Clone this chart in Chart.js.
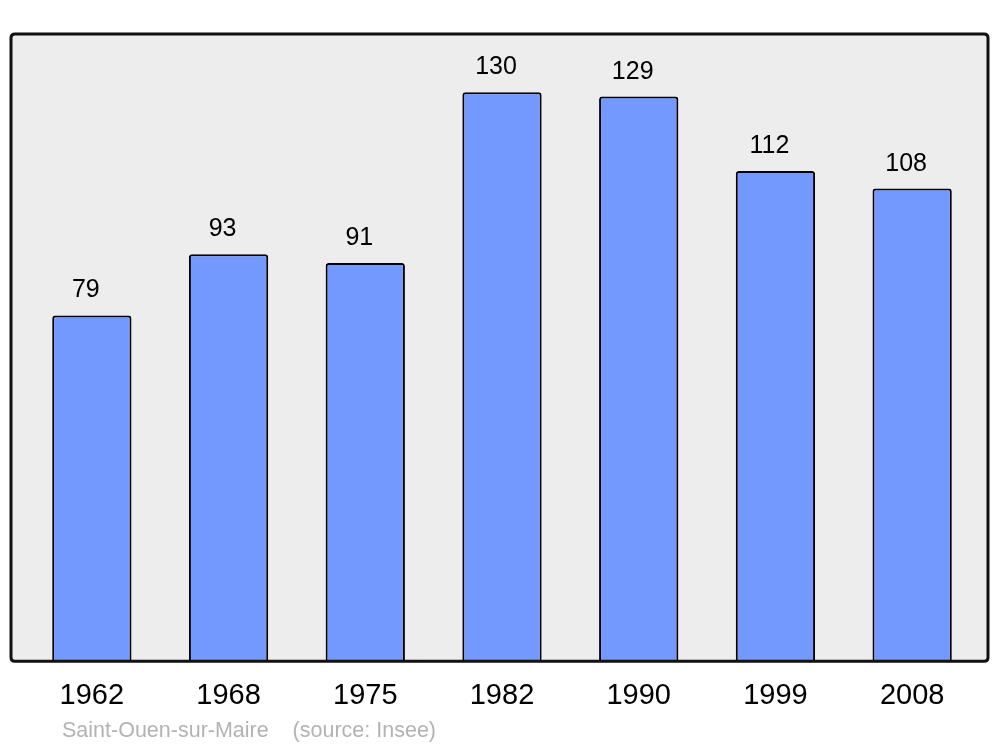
<!DOCTYPE html>
<html>
<head>
    <script src="https://cdn.jsdelivr.net/npm/chart.js"></script>
    <style>
        html, body { margin: 0; padding: 0; background: #fff; }
        #wrap { width: 1000px; height: 747px; position: relative; }
    </style>
</head>
<body>
<div id="wrap">
    <canvas id="pop-chart" width="1000" height="747"></canvas>
</div>

<script>
    // données
    var years = ['1962', '1968', '1975', '1982', '1990', '1999', '2008'];
    var population = [79, 93, 91, 130, 129, 112, 108];
    var footerText = 'Saint-Ouen-sur-Maire    (source: Insee)';

    // fond gris + cadre noir arrondi
    function roundRect(ctx, x, y, w, h, r) {
        ctx.beginPath();
        ctx.moveTo(x + r, y);
        ctx.lineTo(x + w - r, y);
        ctx.quadraticCurveTo(x + w, y, x + w, y + r);
        ctx.lineTo(x + w, y + h - r);
        ctx.quadraticCurveTo(x + w, y + h, x + w - r, y + h);
        ctx.lineTo(x + r, y + h);
        ctx.quadraticCurveTo(x, y + h, x, y + h - r);
        ctx.lineTo(x, y + r);
        ctx.quadraticCurveTo(x, y, x + r, y);
        ctx.closePath();
    }

    function frameBox(chart) {
        var a = chart.chartArea;
        return { x: a.left - 12.5, y: a.top, w: (a.right + 7.5) - (a.left - 12.5), h: a.bottom - a.top };
    }

    var framePlugin = {
        id: 'frame',
        beforeDatasetsDraw: function(chart) {
            var ctx = chart.ctx, b = frameBox(chart);
            ctx.save();
            roundRect(ctx, b.x, b.y, b.w, b.h, 4);
            ctx.fillStyle = '#ededed';
            ctx.fill();
            ctx.restore();
        },
        afterDatasetsDraw: function(chart) {
            var ctx = chart.ctx, b = frameBox(chart);
            ctx.save();
            roundRect(ctx, b.x, b.y, b.w, b.h, 4);
            ctx.lineWidth = 3;
            ctx.strokeStyle = '#111';
            ctx.stroke();

            // valeurs au-dessus des barres
            var meta = chart.getDatasetMeta(0);
            ctx.fillStyle = '#000';
            ctx.font = '25px "Liberation Sans", Arial, sans-serif';
            ctx.textAlign = 'center';
            ctx.textBaseline = 'alphabetic';
            meta.data.forEach(function(bar, i) {
                ctx.fillText(String(population[i]), bar.x - 6, bar.y - 18);
            });

            // source
            ctx.fillStyle = '#b3b3b3';
            ctx.font = '21.5px "Liberation Sans", Arial, sans-serif';
            ctx.textAlign = 'left';
            ctx.fillText(footerText, 62, 737);
            ctx.restore();
        }
    };

    var ctx = document.getElementById('pop-chart').getContext('2d');
    var popChart = new Chart(ctx, {
        type: 'bar',
        data: {
            labels: years,
            datasets: [{
                data: population,
                backgroundColor: '#7399ff',
                borderColor: '#000',
                borderWidth: 2,
                borderRadius: 3,
                borderSkipped: 'start',
                barPercentage: 0.58,
                categoryPercentage: 1
            }]
        },
        options: {
            responsive: false,
            animation: false,
            layout: { padding: { left: 23.5, right: 19.5, top: 34, bottom: 16 } },
            plugins: {
                legend: { display: false },
                tooltip: { enabled: false }
            },
            scales: {
                x: {
                    grid: { display: false, drawTicks: false },
                    border: { display: false },
                    ticks: {
                        color: '#000',
                        padding: 17.5,
                        font: { family: '"Liberation Sans", Arial, sans-serif', size: 29 }
                    }
                },
                y: {
                    display: false,
                    min: 0,
                    max: 143.3
                }
            }
        },
        plugins: [framePlugin]
    });
</script>

</body>
</html>
